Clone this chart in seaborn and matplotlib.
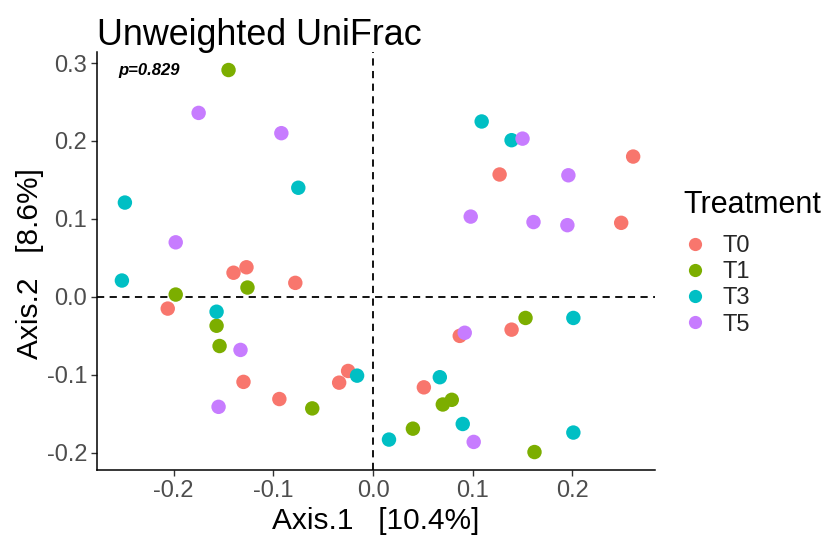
import matplotlib
matplotlib.use('Agg')
import matplotlib.pyplot as plt
import seaborn as sns
import pandas as pd

# PCoA coordinates, by treatment
t0_x = [-0.127, -0.140, -0.078, 0.261, 0.127, 0.249, -0.206, -0.130, -0.094, -0.025, -0.034, 0.087, 0.139, 0.051]
t0_y = [0.038, 0.031, 0.018, 0.180, 0.157, 0.095, -0.015, -0.109, -0.131, -0.095, -0.110, -0.050, -0.042, -0.116]

t1_x = [-0.145, -0.126, -0.198, -0.157, -0.154, -0.061, 0.153, 0.079, 0.070, 0.040, 0.162]
t1_y = [0.291, 0.012, 0.003, -0.037, -0.063, -0.143, -0.027, -0.132, -0.138, -0.169, -0.199]

t3_x = [-0.075, -0.249, -0.252, 0.109, 0.139, -0.157, -0.016, 0.201, 0.067, 0.090, 0.016, 0.201]
t3_y = [0.140, 0.121, 0.021, 0.225, 0.201, -0.019, -0.101, -0.027, -0.103, -0.163, -0.183, -0.174]

t5_x = [-0.175, -0.092, -0.198, 0.150, 0.196, 0.098, 0.161, 0.195, -0.133, -0.155, 0.092, 0.101]
t5_y = [0.236, 0.210, 0.070, 0.203, 0.156, 0.103, 0.096, 0.092, -0.068, -0.141, -0.046, -0.186]

groups = ['T0', 'T1', 'T3', 'T5']
colors = ['#F8766D', '#7CAE00', '#00BFC4', '#C77CFF']

xs = [t0_x, t1_x, t3_x, t5_x]
ys = [t0_y, t1_y, t3_y, t5_y]
df = pd.concat([pd.DataFrame({'Axis.1': x, 'Axis.2': y, 'Treatment': g})
                for x, y, g in zip(xs, ys, groups)], ignore_index=True)

sns.set_theme(style='white')
plt.rcParams['font.family'] = ['Liberation Sans', 'DejaVu Sans']

fig = plt.figure(figsize=(8.24, 5.37), dpi=100)
ax = fig.add_axes([0.1177, 0.1248, 0.6773, 0.7782])

ax.axhline(0, color='black', linestyle=(0, (4, 3)), linewidth=1.3, zorder=1)
ax.axvline(0, color='black', linestyle=(0, (4, 3)), linewidth=1.3, zorder=1)

sns.scatterplot(data=df, x='Axis.1', y='Axis.2', hue='Treatment',
                hue_order=groups, palette=colors, s=108, linewidth=0,
                ax=ax, zorder=3, legend=False)

ax.set_xlim(-0.277, 0.283)
ax.set_ylim(-0.222, 0.314)
ax.set_xticks([-0.2, -0.1, 0.0, 0.1, 0.2])
ax.set_yticks([-0.2, -0.1, 0.0, 0.1, 0.2, 0.3])
ax.set_xticklabels(['-0.2', '-0.1', '0.0', '0.1', '0.2'])
ax.set_yticklabels(['-0.2', '-0.1', '0.0', '0.1', '0.2', '0.3'])
ax.tick_params(axis='both', which='major', direction='out', length=4, width=1,
               color='#333333', labelcolor='#4D4D4D', labelsize=17, pad=3, bottom=True, left=True)

for side in ['top', 'right']:
    ax.spines[side].set_visible(False)
for side in ['left', 'bottom']:
    ax.spines[side].set_color('black')
    ax.spines[side].set_linewidth(1.1)

ax.set_xlabel('Axis.1   [10.4%]', fontsize=21.5, color='black')
ax.set_ylabel('Axis.2   [8.6%]', fontsize=21.5, color='black')
ax.xaxis.set_label_coords(0.5, -0.088)
ax.yaxis.set_label_coords(-0.095, 0.493)
ax.set_title('Unweighted UniFrac', fontsize=25.8, loc='left', color='black', pad=5)

ax.text(-0.256, 0.29, 'p=0.829', fontsize=12, fontweight='bold', fontstyle='italic',
        va='center', ha='left', color='black')

# legend: title drawn separately so the gap to the keys matches ggplot
fig.text(0.829, 0.646, 'Treatment', fontsize=22, color='black', ha='left', va='top')
handles = [plt.Line2D([], [], marker='o', linestyle='', markersize=9.5,
                      markerfacecolor=c, markeredgewidth=0) for c in colors]
fig.legend(handles, groups, loc='upper left',
           bbox_to_anchor=(0.8, 0.602), frameon=False, fontsize=17,
           handletextpad=0.6, labelspacing=0.18, handlelength=1.2)

fig.savefig('out.png', dpi=100)
